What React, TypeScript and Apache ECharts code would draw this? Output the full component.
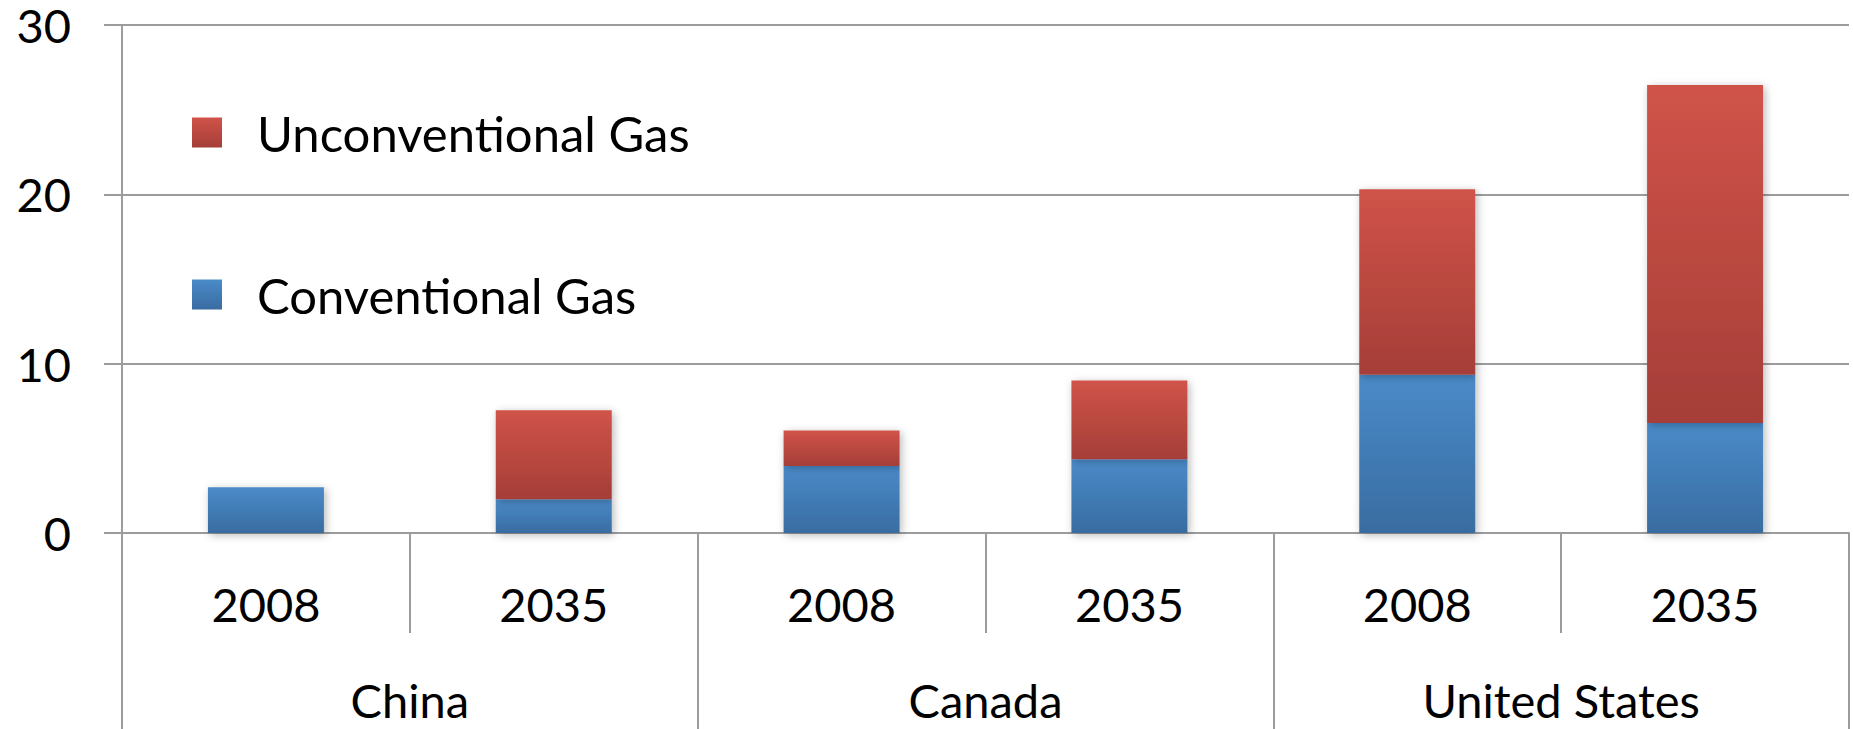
import React, { useEffect, useRef } from "react";
import * as echarts from "echarts";

const years = ["2008", "2035", "2008", "2035", "2008", "2035"];
const countries = ["China", "Canada", "United States"];
const conventional = [2.7, 2.0, 3.95, 4.35, 9.35, 6.5];
const unconventional = [0, 5.25, 2.1, 4.65, 10.95, 19.95];
const yTicks = { min: 0, max: 30, interval: 10 };

const FONT = "Lato";
const GRAY = "#9c9c9c";

export default function App() {
  const ref = useRef<HTMLDivElement>(null);
  useEffect(() => {
    if (!ref.current) return;
    const chart = echarts.init(ref.current, null, { renderer: "svg" });
    const blue = new echarts.graphic.LinearGradient(0, 0, 0, 1, [
      { offset: 0, color: "#4a8bc9" },
      { offset: 1, color: "#396ca1" },
    ]);
    const red = new echarts.graphic.LinearGradient(0, 0, 0, 1, [
      { offset: 0, color: "#d05349" },
      { offset: 1, color: "#a53e38" },
    ]);
    const shadow = {
      shadowBlur: 8,
      shadowColor: "rgba(0,0,0,0.28)",
      shadowOffsetX: 2,
      shadowOffsetY: 2,
    };
    chart.setOption({
      animation: false,
      backgroundColor: "#ffffff",
      textStyle: { fontFamily: FONT, color: "#000" },
      grid: { left: 122, right: 4, top: 25, bottom: 196 },
      legend: {
        orient: "vertical",
        left: 192,
        top: 108,
        padding: 0,
        itemWidth: 30,
        itemHeight: 30,
        itemGap: 113,
        icon: "rect",
        selectedMode: false,
        data: ["Unconventional Gas", "Conventional Gas"],
        textStyle: {
          fontFamily: FONT,
          fontSize: 49,
          color: "#000",
          lineHeight: 30,
          padding: [0, 0, 0, 30],
        },
      },
      xAxis: [
        {
          type: "category",
          data: years,
          position: "bottom",
          axisLine: { show: true, lineStyle: { color: GRAY, width: 2 } },
          axisTick: {
            show: true,
            interval: 0,
            length: 100,
            lineStyle: { color: GRAY, width: 2 },
          },
          axisLabel: {
            interval: 0,
            margin: 47,
            fontFamily: FONT,
            fontSize: 47,
            color: "#000",
          },
          splitLine: { show: false },
        },
        {
          type: "category",
          data: countries,
          position: "bottom",
          axisLine: { show: false },
          axisTick: {
            show: true,
            interval: 0,
            length: 200,
            lineStyle: { color: GRAY, width: 2 },
          },
          axisLabel: {
            interval: 0,
            margin: 146,
            fontFamily: FONT,
            fontSize: 47,
            lineHeight: 42,
            color: "#000",
          },
          splitLine: { show: false },
        },
      ],
      yAxis: {
        type: "value",
        min: yTicks.min,
        max: yTicks.max,
        interval: yTicks.interval,
        axisLine: { show: true, lineStyle: { color: GRAY, width: 2 } },
        axisTick: { show: true, length: 18, lineStyle: { color: GRAY, width: 2 } },
        splitLine: { show: true, lineStyle: { color: GRAY, width: 2 } },
        axisLabel: {
          margin: 51,
          fontFamily: FONT,
          fontSize: 47,
          lineHeight: 24,
          color: "#000",
          padding: [10, 0, 0, 0],
        },
      },
      series: [
        {
          name: "Conventional Gas",
          type: "bar",
          stack: "gas",
          xAxisIndex: 0,
          barWidth: 116,
          data: conventional,
          itemStyle: { color: blue, ...shadow },
        },
        {
          name: "Unconventional Gas",
          type: "bar",
          stack: "gas",
          xAxisIndex: 0,
          barWidth: 116,
          data: unconventional,
          itemStyle: { color: red, ...shadow },
        },
      ],
    });
    return () => chart.dispose();
  }, []);
  return (
    <div
      ref={ref}
      style={{ position: "absolute", left: 0, top: 0, width: 1853, height: 729, background: "#fff" }}
    />
  );
}
